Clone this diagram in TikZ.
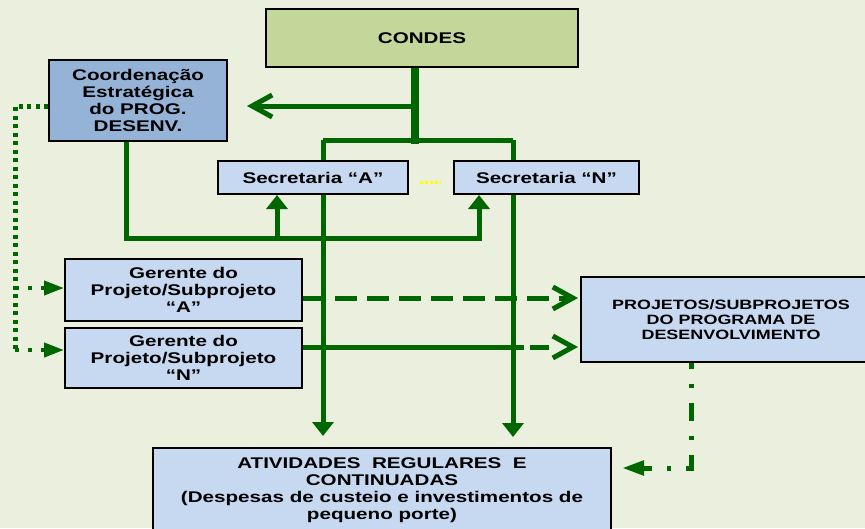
\documentclass[tikz,border=0pt]{standalone}
\usepackage{fontspec}
\setmainfont[FakeStretch=1.33]{Liberation Sans}
\usetikzlibrary{arrows.meta,calc}
\definecolor{bgc}{RGB}{235,239,222}
\definecolor{gl}{RGB}{0,102,0}
\definecolor{condc}{RGB}{196,215,155}
\definecolor{coordc}{RGB}{149,179,215}
\definecolor{boxc}{RGB}{198,217,241}
\definecolor{yel}{RGB}{255,255,0}
\pgfdeclarelayer{lines}
\pgfsetlayers{lines,main}
\begin{document}
\begin{tikzpicture}[x=1pt,y=-1pt,
  font=\bfseries\fontsize{15.5}{17}\selectfont,
  box/.style={draw=black, line width=2pt, anchor=north west, inner sep=0pt, align=center},
  gline/.style={draw=gl, line width=5pt},
  tri/.style={-{Triangle[length=14pt,width=21pt]}},
  barb/.style={-{Straight Barb[length=20pt,width=22pt]}},
  smalltri/.style={-{Triangle[length=20pt,width=14pt]}}]
\begin{pgfonlayer}{lines}
\fill[bgc] (0,0) rectangle (865,528);
\end{pgfonlayer}
\clip (0,0) rectangle (865,528);
% nodes
\node[box, fill=condc, minimum width=312pt, minimum height=58pt] (cond) at (265,8) {CONDES};
\node[box, fill=coordc, minimum width=178pt, minimum height=81pt] (coord) at (48,59) {Coordenação\\Estratégica\\do PROG.\\DESENV.};
\node[box, fill=boxc, minimum width=190pt, minimum height=33pt] (secA) at (217,160) {Secretaria “A”};
\node[box, fill=boxc, minimum width=185pt, minimum height=33pt] (secN) at (453,160) {Secretaria “N”};
\node[box, fill=boxc, minimum width=237pt, minimum height=62pt] (gerA) at (64,258) {Gerente do\\Projeto/Subprojeto\\“A”};
\node[box, fill=boxc, minimum width=237pt, minimum height=60pt] (gerN) at (64,327) {Gerente do\\Projeto/Subprojeto\\“N”};
\node[box, fill=boxc, minimum width=300pt, minimum height=85pt, font=\bfseries\fontsize{13.5}{15}\selectfont] (proj) at (580,276) {PROJETOS/SUBPROJETOS\\DO PROGRAMA DE\\DESENVOLVIMENTO};
\node[box, fill=boxc, minimum width=458pt, minimum height=84pt] (ativ) at (152,447) {ATIVIDADES\ \ REGULARES\ \ E\\CONTINUADAS\\(Despesas de custeio e investimentos de\\pequeno porte)};
% connectors
\begin{pgfonlayer}{lines}
\coordinate (jT) at (415,144);
\coordinate (jC) at (415,106);
\coordinate (jA) at (323,140);
\coordinate (jN) at (513,140);
\coordinate (bA) at (277,238);
\coordinate (bN) at (479,238);
\coordinate (L1) at (15,106);
\coordinate (L2) at (15,351);
\draw[draw=gl, line width=8pt] (cond.south -| jT) -- (jT);
\draw[gline, barb, shorten >=19pt] (jC) -- (coord.east |- jC);
\draw[gline] (jA) -- (jN);
\draw[gline, tri, shorten >=11pt] (jA) -- (ativ.north -| jA);
\draw[gline, tri, shorten >=10pt] (jN) -- (ativ.north -| jN);
\draw[gline, tri] ([xshift=-12pt]coord.south) |- (bN) -- (secN.south -| bN);
\draw[gline, tri] (bA) -- (secA.south -| bA);
\draw[yel, line width=2.5pt, dash pattern=on 2.5pt off 2.5pt] ([xshift=11pt,yshift=-5pt]secA.east) -- ([xshift=-12pt,yshift=-5pt]secN.west);
\draw[draw=gl, line width=5pt, dash pattern=on 4pt off 4.5pt] (coord.west |- jC) -- (L1) -- (L2);
\draw[draw=gl, line width=4pt, dash pattern=on 4pt off 9pt, smalltri] ([yshift=2pt]gerA.west -| L1) -- ([yshift=2pt]gerA.west);
\draw[draw=gl, line width=4pt, dash pattern=on 4pt off 9pt, smalltri] ([yshift=8pt]gerN.west -| L1) -- ([yshift=8pt]gerN.west);
\draw[gline, dash pattern=on 22pt off 10pt, barb, shorten >=2pt] ([yshift=-8pt]gerA.east) coordinate (gA) -- (proj.west |- gA);
\draw[gline, dash pattern=on 221pt off 6pt on 19pt off 40pt, barb, shorten >=2pt] ([yshift=11pt]gerN.east) coordinate (gN) -- (proj.west |- gN);
\draw[draw=gl, line width=5pt, dash pattern=on 18pt off 15pt on 4pt off 15pt, dash phase=12pt, -{Triangle[length=22pt,width=14pt]}, shorten >=10pt] ([xshift=-40pt]proj.south) |- ([yshift=22pt]ativ.east);
\end{pgfonlayer}
\end{tikzpicture}
\end{document}
